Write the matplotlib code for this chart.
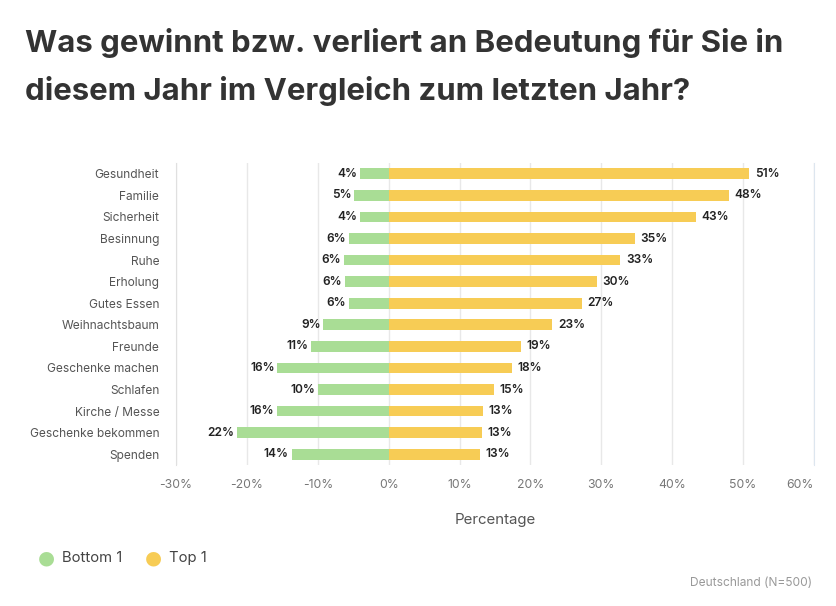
import matplotlib.pyplot as plt
import numpy as np

categories = ['Gesundheit', 'Familie', 'Sicherheit', 'Besinnung', 'Ruhe', 'Erholung',
              'Gutes Essen', 'Weihnachtsbaum', 'Freunde', 'Geschenke machen', 'Schlafen',
              'Kirche / Messe', 'Geschenke bekommen', 'Spenden']
bottom_values = [4.1, 4.9, 4.1, 5.6, 6.3, 6.2, 5.6, 9.2, 10.9, 15.7, 10.0, 15.8, 21.4, 13.7]
top_values = [50.9, 48.0, 43.3, 34.7, 32.7, 29.4, 27.3, 23.1, 18.7, 17.4, 14.9, 13.3, 13.1, 12.9]
bottom_labels = ['4%', '5%', '4%', '6%', '6%', '6%', '6%', '9%', '11%', '16%', '10%', '16%', '22%', '14%']
top_labels = ['51%', '48%', '43%', '35%', '33%', '30%', '27%', '23%', '19%', '18%', '15%', '13%', '13%', '13%']
ticks = [-30, -20, -10, 0, 10, 20, 30, 40, 50, 60]

green = '#a9dd95'
yellow = '#f7cc55'

plt.rcParams['font.family'] = ['Inter', 'DejaVu Sans']

fig = plt.figure(figsize=(8.37, 6.06), dpi=100)
ax = fig.add_axes([176 / 837, 1 - 465 / 606, 638 / 837, 302 / 606])

y = np.arange(len(categories))
ax.barh(y, [-v for v in bottom_values], height=0.5, color=green, zorder=2)
ax.barh(y, top_values, height=0.5, color=yellow, zorder=2)

for i in range(len(categories)):
    ax.annotate(bottom_labels[i], (-bottom_values[i], y[i]), xytext=(-2, 0),
                textcoords='offset points', ha='right', va='center',
                fontsize=8.6, fontweight='semibold', color='#222222')
    ax.annotate(top_labels[i], (top_values[i], y[i]), xytext=(4, 0),
                textcoords='offset points', ha='left', va='center',
                fontsize=8.6, fontweight='semibold', color='#222222')

ax.set_xlim(-30, 60)
ax.set_ylim(len(categories) - 0.5, -0.5)
ax.set_xticks(ticks)
ax.set_xticklabels([f'{t}%' for t in ticks])
ax.get_xticklabels()[-1].set_ha('right')
ax.set_yticks(y)
ax.set_yticklabels(categories)
ax.tick_params(axis='y', length=0, pad=12, labelsize=8.6, labelcolor='#555555')
ax.tick_params(axis='x', length=0, pad=10, labelsize=8.8, labelcolor='#777777')
ax.grid(axis='x', color='#e8e8e8', linewidth=1, zorder=0)
for s in ['top', 'bottom']:
    ax.spines[s].set_visible(False)
ax.spines['left'].set_color('#e0e0e0')
ax.spines['right'].set_color('#dde6ef')
ax.set_xlabel('Percentage', fontsize=10.8, color='#555555', labelpad=16)

fig.text(25 / 837, 1 - 43 / 606, 'Was gewinnt bzw. verliert an Bedeutung für Sie in',
         fontsize=22.4, fontweight='bold', color='#333333', va='center')
fig.text(25 / 837, 1 - 91 / 606, 'diesem Jahr im Vergleich zum letzten Jahr?',
         fontsize=22.4, fontweight='bold', color='#333333', va='center')

# legend
fig.text(46 / 837, 1 - 558 / 606, '●', fontsize=14, color=green, ha='center', va='center',
         family='DejaVu Sans')
fig.text(62 / 837, 1 - 558 / 606, 'Bottom 1', fontsize=10.7, color='#444444', va='center')
fig.text(153 / 837, 1 - 558 / 606, '●', fontsize=14, color=yellow, ha='center', va='center',
         family='DejaVu Sans')
fig.text(169 / 837, 1 - 558 / 606, 'Top 1', fontsize=10.7, color='#444444', va='center')

fig.text(812 / 837, 1 - 583 / 606, 'Deutschland (N=500)', fontsize=8.6, color='#999999',
         ha='right', va='center')

fig.savefig('out.png', dpi=100)
